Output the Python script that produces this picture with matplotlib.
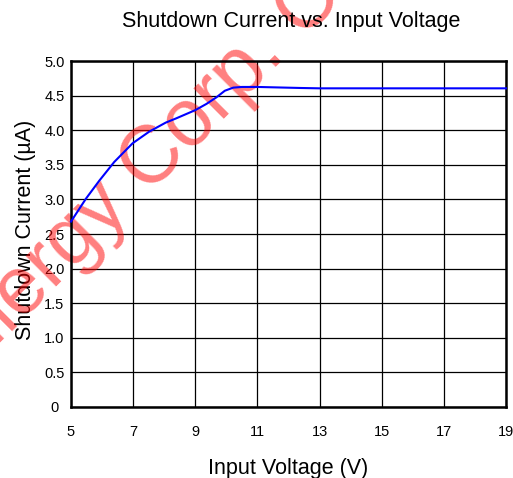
import matplotlib
matplotlib.use("Agg")
import matplotlib.pyplot as plt

plt.rcParams["font.family"] = ["Liberation Sans", "DejaVu Sans"]

# data
vin = [5.0, 5.48, 5.91, 6.39, 6.98, 7.52, 8.05, 8.38, 9.0, 9.36, 9.68, 9.95, 10.22, 10.5,
       11.0, 12.4, 13.0, 15.0, 17.0, 19.0]
i_sd = [2.68, 3.01, 3.27, 3.54, 3.81, 3.98, 4.11, 4.17, 4.29, 4.38, 4.475, 4.57, 4.615, 4.625,
        4.625, 4.61, 4.605, 4.605, 4.605, 4.605]

x_ticks = [5, 7, 9, 11, 13, 15, 17, 19]
y_ticks = [0, 0.5, 1.0, 1.5, 2.0, 2.5, 3.0, 3.5, 4.0, 4.5, 5.0]
y_tick_labels = ["0", "0.5", "1.0", "1.5", "2.0", "2.5", "3.0", "3.5", "4.0", "4.5", "5.0"]

fig = plt.figure(figsize=(5.13, 4.78), dpi=100)
ax = fig.add_axes([71 / 513, 1 - 407 / 478, 435 / 513, 346 / 478])

ax.plot(vin, i_sd, color="#0000ff", linewidth=1.5, zorder=3, clip_on=False)

ax.set_xlim(5, 19)
ax.set_ylim(0, 5)
ax.set_xticks(x_ticks)
ax.set_yticks(y_ticks)
ax.set_yticklabels(y_tick_labels)
ax.tick_params(length=0, labelsize=10.5)
ax.tick_params(axis="x", pad=13)
ax.tick_params(axis="y", pad=11.9)
for lab in ax.get_yticklabels():
    lab.set_horizontalalignment("center")
ax.grid(True, color="black", linewidth=0.9)
ax.set_axisbelow(True)
for s in ax.spines.values():
    s.set_linewidth(1.8)

ax.set_xlabel("Input Voltage (V)", fontsize=15.5)
ax.xaxis.set_label_coords(0.5, -0.147)
ax.set_ylabel("Shutdown Current (\u00b5A)", fontsize=15.5)
ax.yaxis.set_label_coords(-0.080, 0.513)
fig.text(0.567, 0.956, "Shutdown Current vs. Input Voltage", fontsize=15.5, ha="center", va="center")

# watermark
ax.text(-42 / 513, 1 - 385 / 478, "Silergy Corp. Confidential", transform=fig.transFigure,
        fontsize=58, color="red", alpha=0.5, rotation=45, ha="left", va="baseline",
        rotation_mode="anchor", clip_on=False, zorder=2)

fig.savefig("out.png", dpi=100)
